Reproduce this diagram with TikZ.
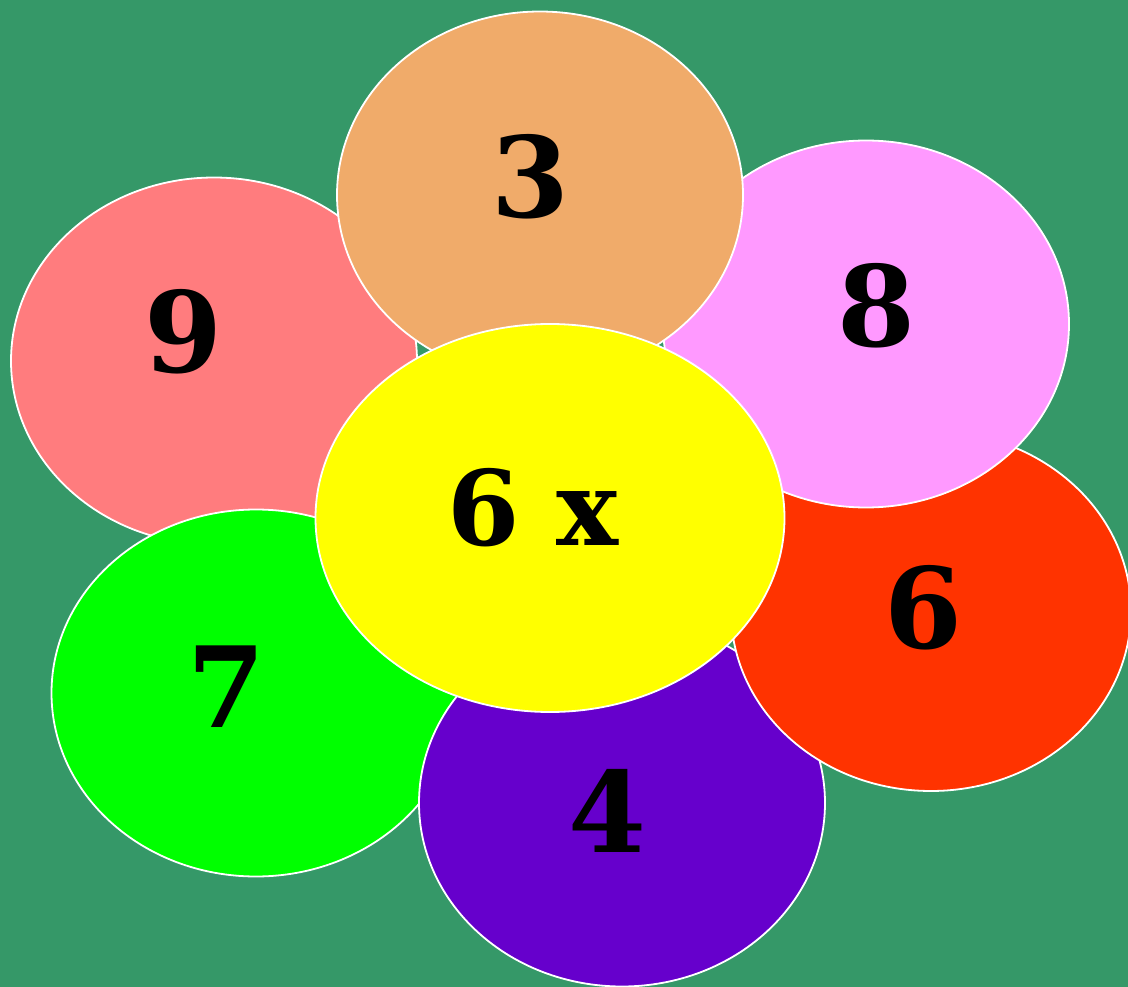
\documentclass[tikz,border=0pt]{standalone}
\usepackage{fontspec}
\usetikzlibrary{shapes.geometric}
\newfontfamily\petalfont{DejaVu Serif}[BoldFont={DejaVu Serif Bold}]
\definecolor{bg}{HTML}{359868}
\definecolor{corange}{HTML}{F0AB6A}
\definecolor{csalmon}{HTML}{FF7C7E}
\definecolor{cpink}{HTML}{FF99FF}
\definecolor{cred}{HTML}{FF3300}
\definecolor{cgreen}{HTML}{00FF00}
\definecolor{cpurple}{HTML}{6600CC}
\definecolor{cyellow}{HTML}{FFFF00}
\begin{document}
\begin{tikzpicture}[x=1pt,y=-1pt,
  petal/.style={ellipse, draw=white, line width=1.8pt, minimum width=406pt, minimum height=367pt, inner sep=0pt},
  lbl/.style={font=\petalfont\bfseries\fontsize{112}{112}\selectfont, text=black, inner sep=0pt}]
\useasboundingbox[fill=bg] (0,0) rectangle (1128,987);
\node[petal, fill=csalmon] (p9) at (214,361) {};
\node[petal, fill=cgreen, minimum width=409pt] (p7) at (256,693) {};
\node[petal, fill=cpurple] (p4) at (622,803) {};
\node[petal, fill=cred, minimum width=400pt, minimum height=360pt] (p6) at (931,611) {};
\node[petal, fill=cpink] (p8) at (866,324) {};
\node[petal, fill=corange] (p3) at (540,195) {};
\node[petal, fill=cyellow, minimum width=469pt, minimum height=388pt] (c) at (550,518) {};
\node[lbl] (t3) at (530,177) {3};
\node[lbl] (t9) at (183,332) {9};
\node[lbl] (t8) at (876,306) {8};
\node[lbl] (t6) at (923,608) {6};
\node[lbl] (t7) at (226,687) {7};
\node[lbl] (t4) at (607,811) {4};
\node[lbl, font=\petalfont\bfseries\fontsize{104}{104}\selectfont] (tc) at (533,508) {6 x};
\end{tikzpicture}
\end{document}
